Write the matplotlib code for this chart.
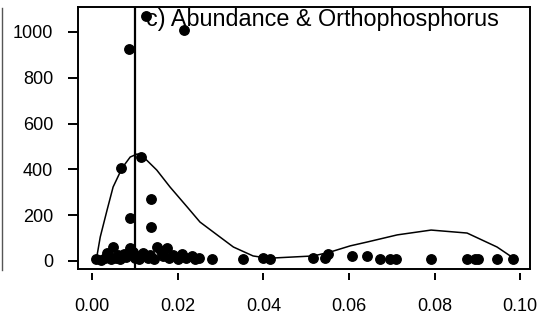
import matplotlib
matplotlib.use("Agg")
import matplotlib.pyplot as plt
from matplotlib.lines import Line2D

plt.rcParams['font.family'] = ['Liberation Sans', 'DejaVu Sans']

# scatter points: orthophosphorus vs abundance
ortho = [0.0126, 0.0215, 0.0086, 0.0115, 0.0068, 0.0138, 0.0089, 0.0138,
         0.0010, 0.0049, 0.0035, 0.0089, 0.0151, 0.0175, 0.0210, 0.0233,
         0.0250, 0.0280, 0.0353, 0.0400, 0.0416, 0.0517, 0.0545, 0.0551,
         0.0607, 0.0643, 0.0673, 0.0696, 0.0710, 0.0792, 0.0876, 0.0895,
         0.0902, 0.0946, 0.0984,
         0.0020, 0.0030, 0.0040, 0.0045, 0.0055, 0.0060, 0.0065, 0.0075,
         0.0080, 0.0095, 0.0100, 0.0105, 0.0110, 0.0120, 0.0130, 0.0135,
         0.0145, 0.0160, 0.0165, 0.0180, 0.0190, 0.0200, 0.0220, 0.0240]
abund = [1070, 1009, 926, 454, 406, 271, 188, 148,
         8, 61, 35, 57, 61, 57, 31, 22,
         13, 9, 9, 13, 9, 13, 13, 31,
         22, 22, 9, 9, 9, 9, 9, 9,
         9, 9, 9,
         5, 12, 20, 8, 15, 25, 10, 30,
         18, 40, 12, 22, 8, 35, 15, 28,
         10, 45, 20, 12, 25, 8, 15, 10]

# smoothed curve
curve_x = [0.0010, 0.0019, 0.0035, 0.0049, 0.0070, 0.0089, 0.0105, 0.0120,
           0.0151, 0.0182, 0.0222, 0.0252, 0.0292, 0.0330, 0.0376, 0.0408,
           0.0423, 0.0517, 0.0556, 0.0603, 0.0643, 0.0713, 0.0792, 0.0876,
           0.0946, 0.0984]
curve_y = [8, 105, 223, 323, 406, 454, 467, 454,
           397, 323, 236, 170, 114, 61, 22, 13,
           13, 22, 39, 66, 83, 114, 135, 122,
           61, 13]

fig = plt.figure(figsize=(5.37, 3.24), dpi=100)
ax = fig.add_axes([78/537, 55/324, 452/537, 262/324])

ax.plot(ortho, abund, 'o', color='black', markersize=6.8, clip_on=False, zorder=3)
ax.plot(curve_x, curve_y, color='black', lw=1.1)
ax.axvline(0.0101, color='black', lw=1.6)

ax.set_xlim(-0.0033, 0.1023)
ax.set_ylim(-35, 1109)
ax.set_xticks([0.0, 0.02, 0.04, 0.06, 0.08, 0.10])
ax.set_xticklabels(['0.00', '0.02', '0.04', '0.06', '0.08', '0.10'])
ax.set_yticks([0, 200, 400, 600, 800, 1000])

for s in ax.spines.values():
    s.set_linewidth(1.4)
ax.spines['bottom'].set_position(('outward', 3))
ax.spines['bottom'].set_color('none')
ax.plot([0, 1], [0, 0], transform=ax.transAxes, color='black', lw=1.4, clip_on=False)

ax.tick_params(axis='y', length=7, width=1.4, labelsize=13, pad=11)
ax.tick_params(axis='x', length=5, width=1.4, labelsize=13, pad=13)

ax.text(0.0125, 1026, 'c) Abundance & Orthophosphorus', fontsize=16.8, va='baseline', ha='left')

fig.add_artist(Line2D([1.5/537, 1.5/537], [1 - 8/324, 1 - 270/324], color='#555555', lw=1))

fig.savefig('out.png', dpi=100)
